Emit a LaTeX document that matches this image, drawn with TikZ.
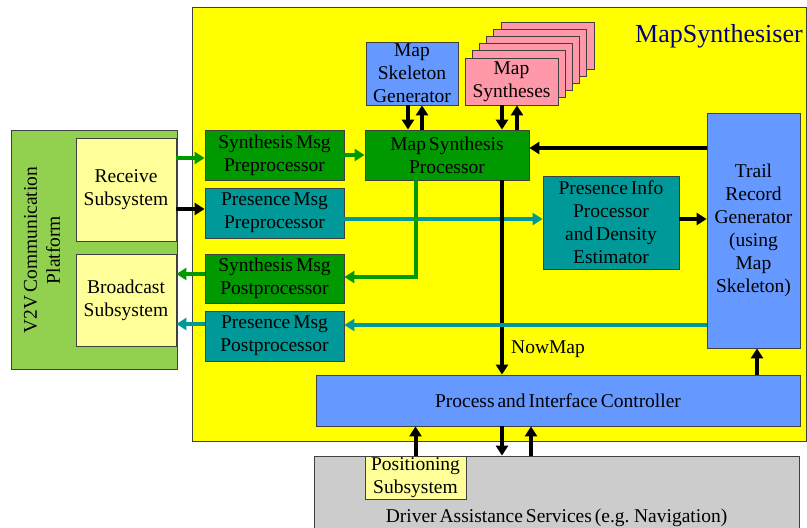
\documentclass[tikz,border=0pt]{standalone}
\usepackage{fontspec}
\setmainfont{Liberation Serif}[WordSpace=0.6]
\usetikzlibrary{arrows.meta}

\definecolor{synthyellow}{RGB}{255,255,0}
\definecolor{platgreen}{RGB}{146,208,80}
\definecolor{paleyellow}{RGB}{255,255,153}
\definecolor{darkgreen}{RGB}{0,153,0}
\definecolor{darkteal}{RGB}{0,153,153}
\definecolor{skyblue}{RGB}{102,153,255}
\definecolor{rosepink}{RGB}{255,153,170}
\definecolor{servgray}{RGB}{204,204,204}
\definecolor{navytext}{RGB}{0,0,128}

\tikzset{
  box/.style={draw=black!75, line width=0.8pt, inner sep=0pt, align=center,
    font=\fontsize{19.5}{23}\selectfont},
  yelbox/.style={box, fill=paleyellow},
  grnbox/.style={box, fill=darkgreen},
  tealbox/.style={box, fill=darkteal},
  bluebox/.style={box, fill=skyblue},
  pinkbox/.style={box, fill=rosepink, minimum width=93pt, minimum height=47pt},
  barrow/.style={line width=4pt, -{Triangle[length=10pt,width=12pt]}},
  garrow/.style={line width=3.5pt, darkgreen, -{Triangle[length=10pt,width=12pt]}},
  tarrow/.style={line width=3.5pt, darkteal, -{Triangle[length=10pt,width=12pt]}},
}

\begin{document}
\begin{tikzpicture}[x=1pt,y=-1pt]
\useasboundingbox (0,0) rectangle (807,528);
% outer blocks
\node[box, fill=synthyellow, minimum width=614pt, minimum height=434pt] (synth) at (499,224) {};
\node[font=\fontsize{26}{30}\selectfont, text=navytext] (synthlabel) at (719,36) {MapSynthesiser};
\node[box, fill=platgreen, minimum width=166pt, minimum height=239pt] (v2v) at (94.5,249.5) {};
\node[rotate=90, align=center, font=\fontsize{19.5}{23}\selectfont] (v2vlabel) at (42,250) {V2V Communication\\Platform};
\node[box, fill=servgray, minimum width=485pt, minimum height=84pt] (das) at (556.5,498) {};
\node[font=\fontsize{19.5}{23}\selectfont] (dastext) at (556.5,518) {Driver Assistance Services (e.g. Navigation)};

% V2V subsystems
\node[yelbox, minimum width=100pt, minimum height=103pt] (recv) at (126,189.5) {Receive\\Subsystem};
\node[yelbox, minimum width=100pt, minimum height=92pt] (bcast) at (126,300) {Broadcast\\Subsystem};

% message pre/post processors
\node[grnbox, minimum width=139pt, minimum height=50pt] (smpre) at (274.5,155) {Synthesis Msg\\Preprocessor};
\node[tealbox, minimum width=139pt, minimum height=50pt] (pmpre) at (274.5,213) {Presence Msg\\Preprocessor};
\node[grnbox, minimum width=139pt, minimum height=49pt] (smpost) at (274.5,278.5) {Synthesis Msg\\Postprocessor};
\node[tealbox, minimum width=139pt, minimum height=50pt] (pmpost) at (274.5,336) {Presence Msg\\Postprocessor};

% map parts
\node[bluebox, minimum width=92pt, minimum height=63pt] (skel) at (412,73.5) {Map\\Skeleton\\Generator};
\foreach \k in {5,4,3,2,1}
  \node[pinkbox] (synback\k) at (511.5+7.2*\k,81.5-7.2*\k) {};
\node[pinkbox] (syntheses) at (511.5,81.5) {Map\\Syntheses};
\node[grnbox, minimum width=164pt, minimum height=50pt] (msp) at (447,155) {Map Synthesis\\Processor};
\node[tealbox, minimum width=136pt, minimum height=93pt] (pinfo) at (611,222.5) {Presence Info\\Processor\\and Density\\Estimator};
\node[bluebox, minimum width=93pt, minimum height=235pt] (trail) at (753.5,230.5) {Trail\\Record\\Generator\\(using\\Map\\Skeleton)};
\node[bluebox, minimum width=484pt, minimum height=51pt] (pic) at (558,400.5) {Process and Interface Controller};
\node[yelbox, minimum width=101pt, minimum height=43pt] (pos) at (415.5,477.5) {Positioning\\Subsystem};

% arrows on the V2V side
\coordinate (rs) at ([yshift=-3pt]smpre.west);
\draw[garrow] (rs -| recv.east) -- (rs);
\coordinate (rp) at ([yshift=4pt]pmpre.west);
\draw[barrow] (rp -| recv.east) -- (rp);
\coordinate (sb) at ([yshift=4.5pt]smpost.west);
\draw[garrow] (sb) -- (sb -| bcast.east);
\coordinate (pb) at ([yshift=12pt]pmpost.west);
\draw[tarrow] (pb) -- (pb -| bcast.east);
\draw[garrow] (smpre.east) -- (smpre.east -| msp.west);
\coordinate (pi) at ([yshift=3.5pt]pinfo.west);
\draw[tarrow] (pi -| pmpre.east) -- (pi);

% processor outputs
\coordinate (spout) at ([xshift=-31pt]msp.south);
\draw[garrow] (spout) |- ([yshift=1.5pt]smpost.east);
\coordinate (nowout) at ([xshift=55pt]msp.south);
\draw[barrow] (nowout) -- (nowout |- pic.north);
\node[font=\fontsize{19.5}{23}\selectfont] (nowmap) at (548,349) {NowMap};
\coordinate (tm) at ([yshift=7pt]msp.east);
\draw[barrow] (tm -| trail.west) -- (tm);
\coordinate (pt) at ([yshift=3.5pt]pinfo.east);
\draw[barrow] (pt) -- (pt -| trail.west);
\coordinate (tp) at ([yshift=11pt]pmpost.east);
\draw[tarrow] (tp -| trail.west) -- (tp);
\coordinate (pct) at ([xshift=3.5pt]trail.south);
\draw[barrow] (pct |- pic.north) -- (pct);

% map skeleton and syntheses
\coordinate (skd) at ([xshift=-4pt]skel.south);
\coordinate (sku) at ([xshift=10pt]skel.south);
\draw[barrow] (skd) -- (skd |- msp.north);
\draw[barrow] (sku |- msp.north) -- (sku);
\coordinate (syd) at ([xshift=-9.5pt]syntheses.south);
\coordinate (syu) at ([xshift=5.5pt]syntheses.south);
\draw[barrow] (syd) -- (syd |- msp.north);
\draw[barrow] (syu |- msp.north) -- (syu);

% controller and services
\draw[barrow] (pos.north) -- (pos.north |- pic.south);
\coordinate (pd) at ([xshift=-56pt]pic.south);
\coordinate (dp) at ([xshift=-27pt]pic.south);
\draw[barrow] (pd) -- (pd |- das.north);
\draw[barrow] (dp |- das.north) -- (dp);
\end{tikzpicture}
\end{document}
